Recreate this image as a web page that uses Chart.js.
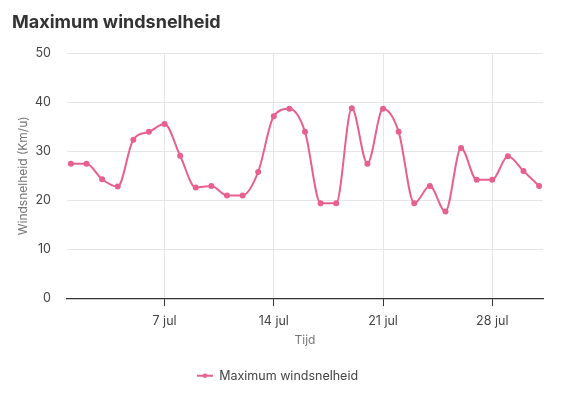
<!DOCTYPE html>
<html>
<head>
<meta charset="utf-8">
<script src="https://cdn.jsdelivr.net/npm/chart.js@4/dist/chart.umd.min.js"></script>
<style>
  html, body { margin: 0; padding: 0; background: #fff; }
  #wrap { width: 563px; height: 393px; position: relative; }
</style>
</head>
<body>
<div id="wrap"><canvas id="windChart"></canvas></div>
<script>
// dag van de maand (juli) en maximum windsnelheid in km/u
const days = [1,2,3,4,5,6,7,8,9,10,11,12,13,14,15,16,17,18,19,20,21,22,23,24,25,26,27,28,29,30,31];
const windSpeed = [27.5,27.5,24.3,22.8,32.4,34.0,35.6,29.1,22.6,22.9,21.0,21.0,25.8,37.2,38.7,34.0,
                   19.4,19.4,38.8,27.5,38.7,34.0,19.4,22.9,17.7,30.7,24.2,24.2,29.0,26.0,22.9];
const tickDays = [7, 14, 21, 28];
const monthLabel = 'jul';
const yTicks = [0, 10, 20, 30, 40, 50];

const lineColor = 'rgb(232, 96, 141)';
const fontFamily = 'Inter, "Noto Sans", sans-serif';

// legend marker: lijntje met punt
function legendMarker() {
  const c = document.createElement('canvas');
  c.width = 16; c.height = 8;
  const g = c.getContext('2d');
  g.strokeStyle = lineColor;
  g.lineWidth = 2;
  g.beginPath(); g.moveTo(0, 4); g.lineTo(16, 4); g.stroke();
  g.fillStyle = lineColor;
  g.beginPath(); g.arc(8, 4, 2.3, 0, Math.PI * 2); g.fill();
  return c;
}
const marker = legendMarker();

new Chart(document.getElementById('windChart'), {
  type: 'line',
  data: {
    datasets: [{
      label: 'Maximum windsnelheid',
      data: days.map((d, i) => ({ x: d, y: windSpeed[i] })),
      borderColor: lineColor,
      backgroundColor: lineColor,
      borderWidth: 2,
      pointRadius: 2,
      pointHoverRadius: 4,
      cubicInterpolationMode: 'monotone',
      fill: false
    }]
  },
  options: {
    responsive: true,
    maintainAspectRatio: false,
    animation: false,
    layout: { padding: { left: 12, right: 20, top: 6, bottom: 1 } },
    scales: {
      x: {
        type: 'linear',
        min: 0.75,
        max: 31.25,
        afterBuildTicks: (axis) => { axis.ticks = tickDays.map(v => ({ value: v })); },
        afterFit: (axis) => { axis.height -= 4; },
        ticks: {
          callback: (v) => `${v} ${monthLabel}`,
          color: '#444',
          font: { family: fontFamily, size: 12.5 },
          padding: 8,
          maxRotation: 0
        },
        grid: { color: '#e6e6e6', tickColor: '#333', tickLength: 8 },
        border: { display: true, color: '#333', width: 1.2 },
        title: {
          display: true,
          text: 'Tijd',
          color: '#777',
          font: { family: fontFamily, size: 12 },
          padding: { top: 0, bottom: 0 }
        }
      },
      y: {
        min: 0,
        max: 50,
        afterBuildTicks: (axis) => { axis.ticks = yTicks.map(v => ({ value: v })); },
        afterFit: (axis) => { axis.width = 55; },
        ticks: {
          color: '#444',
          font: { family: fontFamily, size: 12.5 },
          padding: 16
        },
        grid: { color: '#e6e6e6', drawTicks: false },
        border: { display: false },
        title: {
          display: true,
          text: 'Windsnelheid (Km/u)',
          color: '#777',
          font: { family: fontFamily, size: 12 },
          padding: { top: 4, bottom: 0 }
        }
      }
    },
    plugins: {
      title: {
        display: true,
        text: 'Maximum windsnelheid',
        align: 'start',
        color: '#333',
        font: { family: fontFamily, size: 18, weight: 'bold' },
        padding: { top: 6, bottom: 20 }
      },
      legend: {
        position: 'bottom',
        labels: {
          usePointStyle: true,
          pointStyleWidth: 16,
          color: '#444',
          font: { family: fontFamily, size: 12.5 },
          padding: 22,
          generateLabels: (chart) => chart.data.datasets.map((ds, i) => ({
            text: ds.label,
            pointStyle: marker,
            fillStyle: ds.backgroundColor,
            strokeStyle: ds.borderColor,
            lineWidth: 0,
            hidden: !chart.isDatasetVisible(i),
            datasetIndex: i,
            fontColor: '#444'
          }))
        }
      },
      tooltip: { enabled: true }
    }
  }
});
</script>
</body>
</html>
